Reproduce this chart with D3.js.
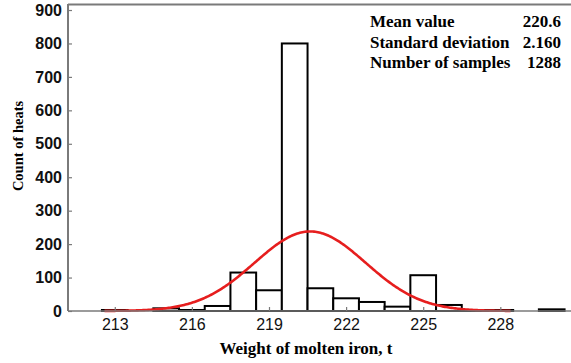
<!DOCTYPE html>
<html>
<head>
<meta charset="utf-8">
<script src="https://cdn.jsdelivr.net/npm/d3@7/dist/d3.min.js"></script>
<style>
  html, body { margin: 0; padding: 0; background: #fff; }
  svg { display: block; }
</style>
</head>
<body>
<svg id="chart" width="571" height="363"></svg>
<script>
// Histogram of molten iron weight per heat (1 t bins) with fitted normal curve
const binCenters = [213, 214, 215, 216, 217, 218, 219, 220, 221, 222, 223, 224, 225, 226, 227, 228, 229, 230];
const counts     = [3,   0,   8,   3,   15,  115, 62,  800, 68,  38,  27,  13,  107, 18,  3,   3,   0,   5];
const xTickValues = [213, 216, 219, 222, 225, 228];
const yTickValues = [0, 100, 200, 300, 400, 500, 600, 700, 800, 900];
const statLabels = ["Mean value", "Standard deviation", "Number of samples"];
const statValues = ["220.6", "2.160", "1288"];
const meanValue = 220.6, stdDev = 2.160, sampleCount = 1288, binWidth = 1;

const svg = d3.select("#chart");
const plotLeft = 68, plotRight = 571, plotTop = 4, plotBottom = 311;

const x = d3.scaleLinear().domain([211.18, 230.75]).range([plotLeft, plotRight]);
const y = d3.scaleLinear().domain([0, 918]).range([plotBottom, plotTop]);

// frame: top border
svg.append("line")
  .attr("x1", plotLeft).attr("x2", plotRight).attr("y1", plotTop + 0.5).attr("y2", plotTop + 0.5)
  .attr("stroke", "#7a7a7a").attr("stroke-width", 2);

// bars
svg.append("g").selectAll("rect")
  .data(binCenters.map((c, i) => ({ c, v: counts[i] })).filter(d => d.v > 0))
  .join("rect")
  .attr("x", d => x(d.c - binWidth / 2))
  .attr("width", d => x(d.c + binWidth / 2) - x(d.c - binWidth / 2))
  .attr("y", d => y(d.v))
  .attr("height", d => y(0) - y(d.v))
  .attr("fill", "#fff")
  .attr("stroke", "#000")
  .attr("stroke-width", 2);

// fitted normal density scaled to counts
const pdf = t => sampleCount * binWidth / (stdDev * Math.sqrt(2 * Math.PI)) *
  Math.exp(-0.5 * Math.pow((t - meanValue) / stdDev, 2));
const curveX = d3.range(212.6, 228.45, 0.05);
svg.append("path")
  .datum(curveX)
  .attr("fill", "none")
  .attr("stroke", "#e61e1e")
  .attr("stroke-width", 2.6)
  .attr("d", d3.line().x(d => x(d)).y(d => y(pdf(d))));

// y axis
const yAxis = svg.append("g")
  .attr("transform", `translate(${plotLeft},0)`)
  .call(d3.axisLeft(y).tickValues(yTickValues).tickSize(-4).tickPadding(6));
yAxis.select(".domain").attr("stroke", "#7a7a7a").attr("stroke-width", 2)
  .attr("d", `M0,${plotTop}V${plotBottom}`);
yAxis.selectAll(".tick line").attr("stroke", "#7a7a7a").attr("stroke-width", 1.2);
yAxis.selectAll(".tick text")
  .attr("font-family", "Liberation Sans, Arial, sans-serif")
  .attr("font-size", 16).attr("font-weight", "bold").attr("fill", "#111");

// x axis
const xAxis = svg.append("g")
  .attr("transform", `translate(0,${plotBottom})`)
  .call(d3.axisBottom(x).tickValues(xTickValues).tickSize(-4).tickPadding(8));
xAxis.select(".domain").attr("stroke", "#7a7a7a").attr("stroke-width", 1.6)
  .attr("d", `M${plotLeft},0H${plotRight}`);
xAxis.selectAll(".tick line").attr("stroke", "#7a7a7a").attr("stroke-width", 1.2);
xAxis.selectAll(".tick text")
  .attr("font-family", "Liberation Sans, Arial, sans-serif")
  .attr("font-size", 16).attr("fill", "#111");

// axis titles
svg.append("text")
  .attr("x", 306).attr("y", 354)
  .attr("text-anchor", "middle")
  .attr("font-family", "Liberation Serif, Times New Roman, serif")
  .attr("font-size", 17).attr("font-weight", "bold")
  .text("Weight of molten iron, t");

svg.append("text")
  .attr("transform", "translate(23,146) rotate(-90)")
  .attr("text-anchor", "middle")
  .attr("font-family", "Liberation Serif, Times New Roman, serif")
  .attr("font-size", 14.5).attr("font-weight", "bold")
  .text("Count of heats");

// statistics block
const stats = svg.append("g")
  .attr("font-family", "Liberation Serif, Times New Roman, serif")
  .attr("font-size", 17).attr("font-weight", "bold");
statLabels.forEach((lab, i) => {
  const yy = 27 + i * 20.5;
  stats.append("text").attr("x", 370).attr("y", yy).text(lab);
  stats.append("text").attr("x", 561).attr("y", yy)
    .attr("text-anchor", "end")
    .text(statValues[i]);
});
</script>
</body>
</html>
